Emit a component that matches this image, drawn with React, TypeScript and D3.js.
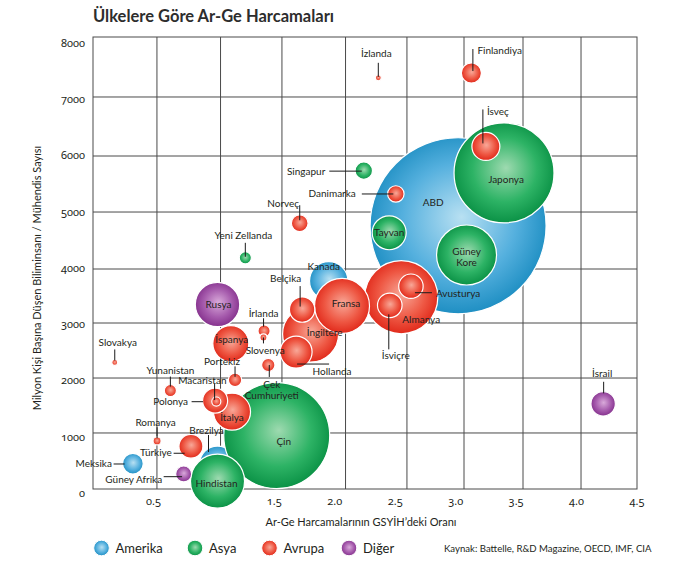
import React from 'react';
import * as d3 from 'd3';

// ---------------- DATA ----------------
const countries = [
  'ABD', 'Kanada', 'Brezilya', 'Meksika',
  'Çin', 'Japonya', 'Güney Kore', 'Hindistan', 'Tayvan', 'Singapur', 'Yeni Zellanda',
  'Almanya', 'İngiltere', 'Fransa', 'İtalya', 'İspanya', 'Hollanda', 'İsveç', 'Belçika', 'Polonya',
  'İsviçre', 'Avusturya', 'Türkiye', 'Finlandiya', 'Norveç', 'Danimarka', 'Portekiz', 'Çek Cumhuriyeti',
  'Yunanistan', 'İrlanda', 'Macaristan', 'Romanya', 'Slovenya', 'Slovakya', 'İzlanda',
  'Rusya', 'İsrail', 'Güney Afrika',
];
const regions = [
  'Amerika', 'Amerika', 'Amerika', 'Amerika',
  'Asya', 'Asya', 'Asya', 'Asya', 'Asya', 'Asya', 'Asya',
  'Avrupa', 'Avrupa', 'Avrupa', 'Avrupa', 'Avrupa', 'Avrupa', 'Avrupa', 'Avrupa', 'Avrupa',
  'Avrupa', 'Avrupa', 'Avrupa', 'Avrupa', 'Avrupa', 'Avrupa', 'Avrupa', 'Avrupa',
  'Avrupa', 'Avrupa', 'Avrupa', 'Avrupa', 'Avrupa', 'Avrupa', 'Avrupa',
  'Diğer', 'Diğer', 'Diğer',
];
// Ar-Ge harcamalarının GSYİH'deki oranı (%)
const rdShare = [
  3.02, 1.95, 1.03, 0.33,
  1.52, 3.40, 3.09, 1.03, 2.45, 2.24, 1.26,
  2.55, 1.80, 2.06, 1.15, 1.14, 1.68, 3.25, 1.73, 1.01,
  2.455, 2.63, 0.81, 3.13, 1.71, 2.505, 1.175, 1.45,
  0.64, 1.415, 1.02, 0.53, 1.41, 0.18, 2.36,
  1.03, 4.22, 0.75,
];
// Milyon kişi başına biliminsanı / mühendis
const researchers = [
  4680, 3700, 444, 450,
  950, 5620, 4160, 140, 4555, 5660, 4110,
  3410, 2755, 3255, 1375, 2585, 2435, 6090, 3190, 1570,
  3265, 3605, 760, 7395, 4725, 5245, 1940, 2205,
  1750, 2810, 1555, 855, 2695, 2250, 7310,
  3280, 1515, 267,
];
// Ar-Ge harcaması (milyar $) -> balon büyüklüğü
const rdSpending = [
  400, 19, 16.7, 5.5,
  145, 129, 46.5, 37.7, 14.9, 3.9, 1.9,
  69, 40.5, 39, 17.7, 16.7, 13.2, 10.1, 8.3, 8.1,
  7.8, 7.7, 7.4, 5.2, 3.6, 3.5, 2.3, 2.3,
  1.9, 1.9, 1.05, 0.83, 0.63, 0.46, 0.46,
  25.5, 7.7, 3.3,
];

const regionNames = ['Amerika', 'Asya', 'Avrupa', 'Diğer'];
const xTicks = [0.5, 1.0, 1.5, 2.0, 2.5, 3.0, 3.5, 4.0, 4.5];
const yTicks = [0, 1000, 2000, 3000, 4000, 5000, 6000, 7000, 8000];
const xGrid = [0.529, 1.055, 1.563, 2.089, 2.597, 3.069, 3.557, 4.037];
const yGrid = [996, 1973, 2951, 3911, 4924, 5920, 6969];

// ---------------- LABEL LAYOUT (pixel offsets from bubble centre) ----------------
type Lay = { dx: number; dy: number; anchor?: string; lines?: string[]; step?: number; leader?: number[] };
const layout: Record<string, Lay> = {
  'ABD': { dx: -25, dy: -23 },
  'Kanada': { dx: -5, dy: -14 },
  'Brezilya': { dx: -11, dy: -34, leader: [-9, -29, -9, -12] },
  'Meksika': { dx: -21, dy: 0.3, anchor: 'end', leader: [-19.3, 0.3, -8.3, 0.3] },
  'Çin': { dx: 7, dy: 6 },
  'Japonya': { dx: 2, dy: 7 },
  'Güney Kore': { dx: 0, dy: 2, lines: ['Güney', 'Kore'], step: 11.7 },
  'Hindistan': { dx: -1, dy: 2 },
  'Tayvan': { dx: 0, dy: 0 },
  'Singapur': { dx: -38.5, dy: 1, anchor: 'end', leader: [-34.5, 0.5, -2, 0.5] },
  'Yeni Zellanda': { dx: -2, dy: -22, leader: [0, -15, 0, -1] },
  'Almanya': { dx: 20, dy: 22 },
  'İngiltere': { dx: 14, dy: -2 },
  'Fransa': { dx: 4, dy: -2 },
  'İtalya': { dx: 0, dy: 5.5 },
  'İspanya': { dx: 1, dy: -4 },
  'Hollanda': { dx: 36, dy: 19, leader: [1, 12, 33, 12] },
  'İsveç': { dx: 1, dy: -35, anchor: 'start', leader: [-3, -37, -3, -3] },
  'Belçika': { dx: -16.5, dy: -31, leader: [-2, -23.5, -2, -3] },
  'Polonya': { dx: -27, dy: 1, anchor: 'end', leader: [-23.5, 1, -12, 1] },
  'İsviçre': { dx: 6, dy: 50.5, leader: [-1, 9, -1, 44] },
  'Avusturya': { dx: 25, dy: 7, anchor: 'start', leader: [4, 6.5, 21, 6.5] },
  'Türkiye': { dx: -19, dy: 6.5, anchor: 'end', leader: [-17.3, 7, -6.3, 7] },
  'Finlandiya': { dx: 6, dy: -23, anchor: 'start', leader: [1.5, -24, 1.5, -2] },
  'Norveç': { dx: -16.5, dy: -20, leader: [0, -18, 0, -3] },
  'Danimarka': { dx: -40, dy: 0, anchor: 'end', leader: [-34, 0, -2.5, 0] },
  'Portekiz': { dx: -13, dy: -18.5, leader: [0, -13.5, 0, -3] },
  'Çek Cumhuriyeti': { dx: 3.5, dy: 25.5, lines: ['Çek', 'Cumhuriyeti'], step: 11, leader: [1, 0, 1, 12] },
  'Yunanistan': { dx: 0, dy: -20.5, leader: [0, -14, 0, -4] },
  'İrlanda': { dx: -0.5, dy: -17, leader: [-0.5, -12.7, -0.5, -4.3] },
  'Macaristan': { dx: -14, dy: -21.5, leader: [-1.7, -17.5, -1.7, -1.5] },
  'Romanya': { dx: -1.5, dy: -18.5, leader: [0, -13.7, 0, -2.7] },
  'Slovenya': { dx: 1.7, dy: 12.7, leader: [0, 0, 0, 6] },
  'Slovakya': { dx: 3, dy: -19.5, leader: [0, -13, 0, -2] },
  'İzlanda': { dx: -2, dy: -24, leader: [0, -15, 0, -1] },
  'Rusya': { dx: 1, dy: 0 },
  'İsrail': { dx: -1, dy: -30, leader: [0.5, -22, 0.5, -10.5] },
  'Güney Afrika': { dx: -21.5, dy: 5.3, anchor: 'end', leader: [-20, 2.7, -1.6, 2.7] },
};

const palette: Record<string, string[]> = {
  'Amerika': ['#b8e0f2', '#55b0de', '#1f8fc3'],
  'Asya': ['#9edab0', '#2db365', '#0b9246'],
  'Avrupa': ['#f8a898', '#ee5743', '#e12a1b'],
  'Diğer': ['#d9aada', '#a55aac', '#85318d'],
};
const gradId: Record<string, string> = { 'Amerika': 'gAm', 'Asya': 'gAs', 'Avrupa': 'gAv', 'Diğer': 'gDi' };

const FONT = 'Lato, "Open Sans", sans-serif';
const TXT = '#231f20';

export default function App() {
  const W = 688, H = 580;
  const x = d3.scaleLinear().domain([0, 4.5]).range([93, 637]);
  const y = d3.scaleLinear().domain([0, 8000]).range([489, 39]);
  const r = d3.scaleSqrt().domain([0, 400]).range([0, 88]);
  const top = 37;

  const data = countries.map((c, i) => ({
    name: c, region: regions[i], x: rdShare[i], y: researchers[i], s: rdSpending[i],
  }));
  const ordered = regionNames.flatMap((rg) =>
    data.filter((d) => d.region === rg).sort((a, b) => b.s - a.s));

  const numStyle = { fontFeatureSettings: '"onum" 1', fontVariantNumeric: 'oldstyle-nums' } as React.CSSProperties;

  return (
    <svg width={W} height={H} style={{ position: 'absolute', left: 0, top: 0, background: '#fff' }}
      fontFamily={FONT}>
      <defs>
        {regionNames.map((rg) => (
          <radialGradient key={rg} id={gradId[rg]} cx="50%" cy="48%" r="52%" fx="52%" fy="45%">
            <stop offset="0%" stopColor={palette[rg][0]} />
            <stop offset="62%" stopColor={palette[rg][1]} />
            <stop offset="100%" stopColor={palette[rg][2]} />
          </radialGradient>
        ))}
      </defs>
      <rect x={0} y={0} width={W} height={H} fill="#fff" />

      {/* title */}
      <text x={93} y={22} fontSize={16.5} fontWeight="bold" fill="#2d2d2d">Ülkelere Göre Ar-Ge Harcamaları</text>

      {/* grid */}
      <g stroke="#4a4a4a" strokeWidth={1} fill="none">
        <rect x={x(0)} y={top} width={x(4.5) - x(0)} height={y(0) - top} />
        {xGrid.map((g) => <line key={'gx' + g} x1={x(g)} x2={x(g)} y1={top} y2={y(0)} />)}
        {yGrid.map((g) => <line key={'gy' + g} x1={x(0)} x2={x(4.5)} y1={y(g)} y2={y(g)} />)}
      </g>

      {/* axis tick labels */}
      <g fontSize={11} fill={TXT} fontFamily='"Noto Sans", Lato, sans-serif' style={numStyle}>
        {yTicks.map((t) => (
          <text key={'yt' + t} x={85} y={y(t) + 4} dy="0.35em" textAnchor="end">{t}</text>
        ))}
        {xTicks.map((t) => (
          <text key={'xt' + t} x={x(t)} y={501} dy="0.35em" textAnchor="middle">{t.toFixed(1)}</text>
        ))}
      </g>

      {/* axis titles */}
      <text x={361} y={522} dy="0.35em" textAnchor="middle" fontSize={11} fill={TXT}>Ar-Ge Harcamalarının GSYİH’deki Oranı</text>
      <text transform="translate(37,278) rotate(-90)" textAnchor="middle" dy="0.35em" fontSize={11} fill={TXT}>
        Milyon Kişi Başına Düşen Biliminsanı / Mühendis Sayısı
      </text>

      {/* bubbles */}
      <g>
        {ordered.map((d) => (
          <circle key={d.name} cx={x(d.x)} cy={y(d.y)} r={r(d.s)} fill={`url(#${gradId[d.region]})`}
            stroke="#fff" strokeWidth={1.2} />
        ))}
      </g>

      {/* labels */}
      <g fontSize={10} fill={TXT}>
        {data.map((d) => {
          const L = layout[d.name];
          if (!L) return null;
          const cx = x(d.x), cy = y(d.y);
          const lines = L.lines || [d.name];
          const step = L.step || 11;
          const y0 = cy + L.dy - ((lines.length - 1) * step) / 2;
          return (
            <g key={'l' + d.name}>
              {L.leader && (
                <line x1={cx + L.leader[0]} y1={cy + L.leader[1]} x2={cx + L.leader[2]} y2={cy + L.leader[3]}
                  stroke="#1a1a1a" strokeWidth={1} />
              )}
              {lines.map((t, k) => (
                <text key={k} x={cx + L.dx} y={y0 + k * step} dy="0.35em" textAnchor={L.anchor || 'middle'}>{t}</text>
              ))}
            </g>
          );
        })}
      </g>

      {/* legend */}
      <g>
        {regionNames.map((rg, i) => {
          const lx = [101.5, 195, 269.5, 349][i];
          return (
            <g key={'lg' + rg}>
              <circle cx={lx} cy={548} r={7.8} fill={`url(#${gradId[rg]})`} stroke="#fff" strokeWidth={1} />
              <text x={lx + 14} y={548} dy="0.35em" fontSize={13} fill={TXT}>{rg}</text>
            </g>
          );
        })}
        <text x={444} y={549} dy="0.35em" fontSize={9.6} fill={TXT}>Kaynak: Battelle, R&amp;D Magazine, OECD, IMF, CIA</text>
      </g>
    </svg>
  );
}
